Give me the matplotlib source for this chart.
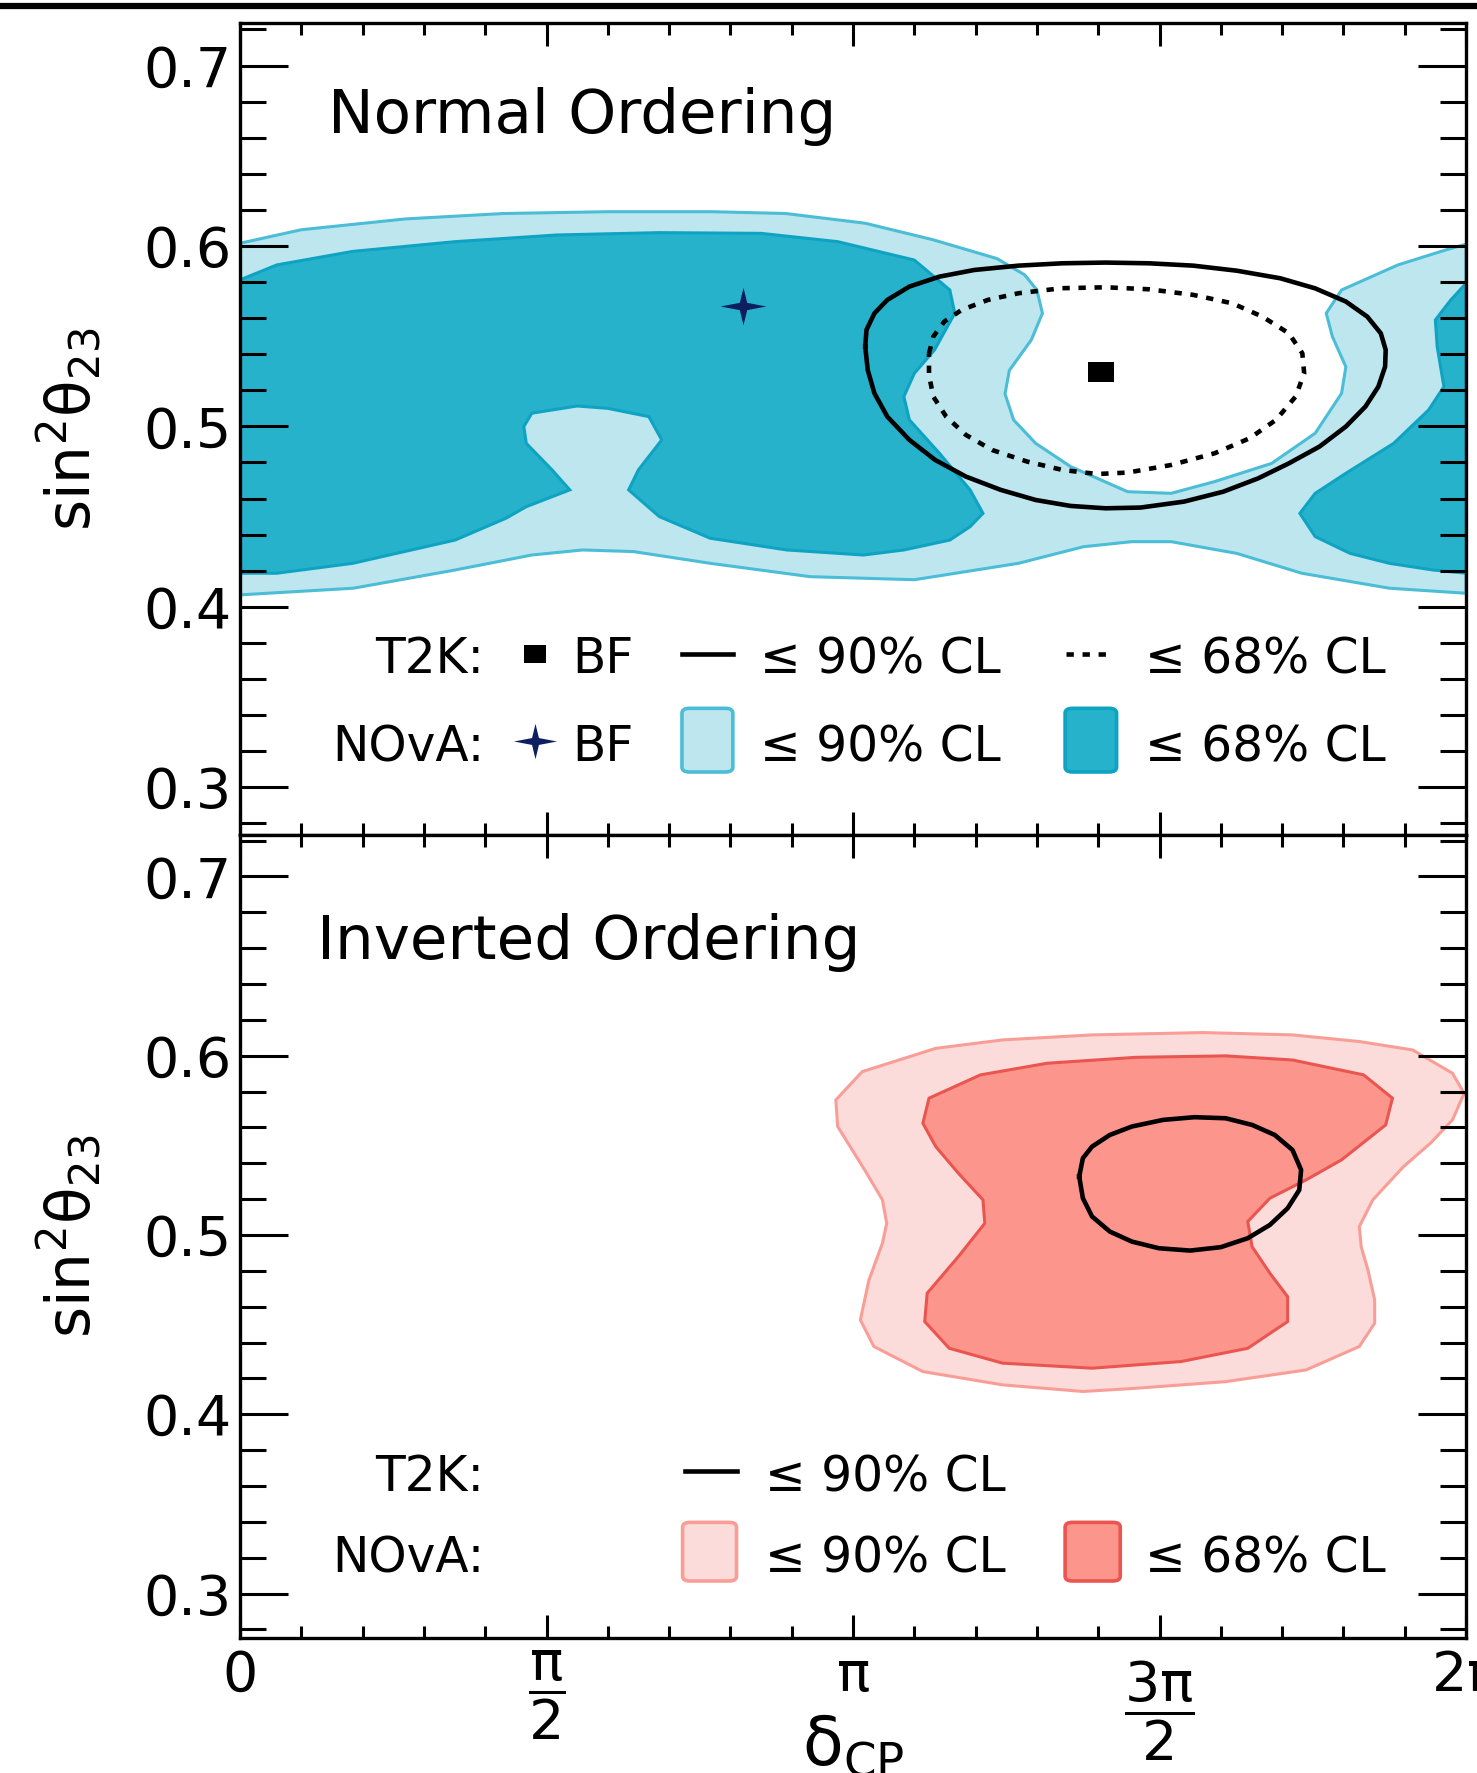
import numpy as np
import matplotlib.pyplot as plt
from matplotlib.path import Path
from matplotlib.patches import FancyBboxPatch
from matplotlib.lines import Line2D

plt.rcParams['font.family'] = ['DejaVu Sans']
plt.rcParams['mathtext.fontset'] = 'dejavusans'
plt.rcParams['mathtext.default'] = 'regular'

# contours as (delta_CP / pi, sin^2 theta_23)

# normal ordering
nova_no_90 = [(0.00, 0.6015), (0.10, 0.609), (0.27, 0.615), (0.43, 0.618), (0.60, 0.619),
              (0.77, 0.619), (0.89, 0.618), (1.02, 0.6126), (1.13, 0.6035), (1.235, 0.593),
              (1.28, 0.584), (1.30, 0.5756), (1.309, 0.5627), (1.291, 0.548), (1.255, 0.531),
              (1.248, 0.518), (1.262, 0.5036), (1.298, 0.4906), (1.355, 0.4777), (1.448, 0.4638),
              (1.519, 0.4629), (1.590, 0.4694), (1.683, 0.4795), (1.754, 0.4962), (1.797, 0.5183),
              (1.804, 0.533), (1.782, 0.5498), (1.772, 0.5627), (1.797, 0.5756), (1.889, 0.5895),
              (1.967, 0.5978), (2.00, 0.601),
              (2.00, 0.4075), (1.875, 0.4103), (1.732, 0.4186), (1.626, 0.4296), (1.519, 0.4361),
              (1.455, 0.4361), (1.376, 0.4333), (1.27, 0.4241), (1.10, 0.4150), (0.93, 0.4167),
              (0.767, 0.4241), (0.642, 0.4306), (0.559, 0.4315), (0.476, 0.4287), (0.351, 0.4204),
              (0.185, 0.4103), (0.00, 0.4066)]

nova_no_68_left = [(0.00, 0.5812), (0.06, 0.5895), (0.184, 0.597), (0.351, 0.6024), (0.517, 0.6061),
                   (0.684, 0.6074), (0.85, 0.607), (0.975, 0.6024), (1.10, 0.5922), (1.158, 0.5756),
                   (1.166, 0.5627), (1.133, 0.5424), (1.10, 0.5294), (1.083, 0.5165), (1.092, 0.5036),
                   (1.141, 0.4851), (1.191, 0.4648), (1.212, 0.4518), (1.191, 0.4444), (1.158, 0.437),
                   (1.083, 0.4315), (1.017, 0.4287), (0.892, 0.4315), (0.767, 0.438), (0.684, 0.450),
                   (0.634, 0.4648), (0.65, 0.4759), (0.688, 0.4925), (0.667, 0.5054), (0.60, 0.510),
                   (0.55, 0.5113), (0.476, 0.5073), (0.463, 0.4999), (0.467, 0.4906), (0.509, 0.4759),
                   (0.538, 0.4648), (0.467, 0.4555), (0.434, 0.4491), (0.351, 0.437), (0.184, 0.4241),
                   (0.06, 0.4186), (0.00, 0.4186)]

nova_no_68_right = [(2.00, 0.5793), (1.975, 0.570), (1.95, 0.559), (1.953, 0.5442), (1.964, 0.522),
                    (1.939, 0.5091), (1.882, 0.4906), (1.804, 0.474), (1.754, 0.4629), (1.729, 0.4518),
                    (1.754, 0.4389), (1.811, 0.4296), (1.875, 0.4241), (1.946, 0.4204), (2.00, 0.4186)]

t2k_no_90 = [(1.020, 0.5442), (1.022, 0.5535), (1.035, 0.5627), (1.056, 0.5701), (1.092, 0.5775),
             (1.141, 0.5830), (1.198, 0.5867), (1.270, 0.5891), (1.341, 0.5904), (1.412, 0.5908),
             (1.483, 0.5904), (1.555, 0.5891), (1.626, 0.5863), (1.697, 0.5821), (1.754, 0.5765),
             (1.804, 0.5692), (1.839, 0.5608), (1.861, 0.5516), (1.869, 0.5424), (1.868, 0.5331),
             (1.857, 0.5220), (1.836, 0.5110), (1.804, 0.4999), (1.761, 0.4888), (1.711, 0.4795),
             (1.661, 0.4712), (1.604, 0.4638), (1.540, 0.4583), (1.469, 0.4550), (1.412, 0.4546),
             (1.355, 0.4559), (1.298, 0.4592), (1.241, 0.4648), (1.184, 0.4722), (1.134, 0.4814),
             (1.092, 0.4925), (1.056, 0.5054), (1.035, 0.5183), (1.024, 0.5313), (1.020, 0.5442)]

t2k_no_68 = [(1.124, 0.5405), (1.131, 0.5498), (1.149, 0.5581), (1.177, 0.5645), (1.220, 0.5701),
             (1.270, 0.5738), (1.341, 0.5766), (1.412, 0.5771), (1.483, 0.5760), (1.555, 0.5729),
             (1.619, 0.5682), (1.668, 0.5608), (1.711, 0.5516), (1.733, 0.5405), (1.736, 0.5294),
             (1.722, 0.5165), (1.690, 0.5036), (1.647, 0.4934), (1.590, 0.4851), (1.519, 0.4786),
             (1.448, 0.4744), (1.398, 0.4736), (1.341, 0.4759), (1.284, 0.4805), (1.227, 0.4869),
             (1.184, 0.4953), (1.152, 0.5054), (1.131, 0.5165), (1.124, 0.5285), (1.124, 0.5405)]

t2k_no_bf = (1.405, 0.530)
nova_no_bf = (0.821, 0.567)

# inverted ordering
nova_io_90 = [(0.972, 0.5753), (1.015, 0.5911), (1.135, 0.6041), (1.244, 0.6088), (1.39, 0.6116),
              (1.571, 0.6129), (1.717, 0.6116), (1.826, 0.6079), (1.913, 0.6032), (1.978, 0.5902),
              (1.997, 0.579), (1.978, 0.5642), (1.942, 0.5512), (1.898, 0.5381), (1.848, 0.5196),
              (1.826, 0.5047), (1.829, 0.4935), (1.84, 0.4805), (1.851, 0.4638), (1.851, 0.4508),
              (1.826, 0.4378), (1.739, 0.4247), (1.608, 0.4182), (1.462, 0.4145), (1.375, 0.4127),
              (1.244, 0.4164), (1.114, 0.4238), (1.034, 0.4378), (1.012, 0.4526), (1.026, 0.4749),
              (1.048, 0.4954), (1.055, 0.5065), (1.048, 0.5196), (1.019, 0.5363), (0.975, 0.5605)]

nova_io_68 = [(1.124, 0.5763), (1.208, 0.5893), (1.317, 0.5958), (1.462, 0.5991), (1.608, 0.5999),
              (1.717, 0.5976), (1.833, 0.5893), (1.88, 0.5763), (1.869, 0.5614), (1.797, 0.5419),
              (1.739, 0.5307), (1.68, 0.5205), (1.644, 0.5075), (1.651, 0.4935), (1.68, 0.4787),
              (1.709, 0.4656), (1.709, 0.4517), (1.644, 0.4368), (1.535, 0.4294), (1.39, 0.4257),
              (1.244, 0.4285), (1.157, 0.4368), (1.117, 0.4517), (1.121, 0.4675), (1.172, 0.488),
              (1.215, 0.5065), (1.212, 0.5196), (1.172, 0.5344), (1.135, 0.5493), (1.114, 0.5623)]

t2k_io_90 = [(1.369, 0.5326), (1.375, 0.5428), (1.390, 0.5493), (1.419, 0.5558), (1.455, 0.5605),
             (1.506, 0.5642), (1.557, 0.5657), (1.608, 0.5651), (1.651, 0.5614), (1.688, 0.5558),
             (1.717, 0.5474), (1.731, 0.5363), (1.728, 0.5251), (1.709, 0.5149), (1.680, 0.5056),
             (1.644, 0.4982), (1.600, 0.4932), (1.550, 0.4913), (1.499, 0.4926), (1.455, 0.4963),
             (1.419, 0.5019), (1.390, 0.5103), (1.375, 0.5205), (1.369, 0.5326)]

yticks = [0.3, 0.4, 0.5, 0.6, 0.7]
ytick_labels = ['0.3', '0.4', '0.5', '0.6', '0.7']
xticks_pi = [0, 0.5, 1, 1.5, 2]
xtick_labels = ['0', r'$\dfrac{\pi}{2}$', r'$\pi$', r'$\dfrac{3\pi}{2}$', r'$2\pi$']

LIGHT_BLUE, LIGHT_BLUE_EDGE = '#BDE6EF', '#4BBDD6'
DARK_BLUE, DARK_BLUE_EDGE = '#27B2CC', '#0EA3C2'
LIGHT_RED, LIGHT_RED_EDGE = '#FBDCDA', '#F99E97'
DARK_RED, DARK_RED_EDGE = '#FC968C', '#EA5550'
STAR_COLOR = '#0D1F5E'

square = Path([(-1, -0.8), (1, -0.8), (1, 0.8), (-1, 0.8), (-1, -0.8)], closed=True)
star = Path([(0, 0.82), (0.16, 0.16), (1, 0), (0.16, -0.16), (0, -0.82),
             (-0.16, -0.16), (-1, 0), (-0.16, 0.16), (0, 0.82)], closed=True)

W, H = 1477, 1773
fig = plt.figure(figsize=(W / 100, H / 100), dpi=100)
ax_no = fig.add_axes([240 / W, 938 / H, 1226 / W, 812 / H])
ax_io = fig.add_axes([240 / W, 135 / H, 1226 / W, 803 / H])


def xy(pts):
    a = np.array(pts)
    return a[:, 0] * np.pi, a[:, 1]


def fill(ax, pts, fc, ec):
    x, y = xy(pts)
    ax.fill(x, y, facecolor=fc, edgecolor=ec, lw=2.2, zorder=1)


def setup(ax, ylim, xlabels):
    ax.set_xlim(0, 2 * np.pi)
    ax.set_ylim(*ylim)
    ax.set_yticks(yticks)
    ax.set_yticklabels(ytick_labels)
    ax.set_xticks([v * np.pi for v in xticks_pi])
    ax.set_xticklabels(xtick_labels)
    ax.xaxis.set_minor_locator(plt.MultipleLocator(np.pi / 10))
    ax.yaxis.set_minor_locator(plt.MultipleLocator(0.02))
    ax.tick_params(which='both', direction='in', top=True, right=True, width=2.2,
                   labelsize=40, labelbottom=xlabels)
    ax.tick_params(axis='y', which='major', length=34.5, pad=6)
    ax.tick_params(axis='y', which='minor', length=18.7)
    ax.tick_params(axis='x', which='major', length=16.5, pad=8)
    ax.tick_params(axis='x', which='minor', length=8.6)
    for s in ax.spines.values():
        s.set_linewidth(2.4)
    ax.text(-0.139, 0.5, r'$sin^{2}\theta_{23}$', rotation=90, ha='center', va='center',
            fontsize=43, transform=ax.transAxes)


def box(ax, x0, x1, y0, y1, fc, ec):
    ax.add_patch(FancyBboxPatch((x0, y0), x1 - x0, y1 - y0,
                                boxstyle='round,pad=0,rounding_size=0.006',
                                transform=ax.transAxes, fc=fc, ec=ec, lw=2.6, clip_on=False))


def txt(ax, x, y, s, ha='left'):
    ax.text(x, y, s, ha=ha, va='baseline', fontsize=35, transform=ax.transAxes)


# ---------- normal ordering ----------
setup(ax_no, (0.2735, 0.7236), False)
fill(ax_no, nova_no_90, LIGHT_BLUE, LIGHT_BLUE_EDGE)
fill(ax_no, nova_no_68_left, DARK_BLUE, DARK_BLUE_EDGE)
fill(ax_no, nova_no_68_right, DARK_BLUE, DARK_BLUE_EDGE)
x, y = xy(t2k_no_90)
ax_no.plot(x, y, color='black', lw=3.3, solid_joinstyle='round', zorder=3)
x, y = xy(t2k_no_68)
ax_no.plot(x, y, color='black', lw=3.3, ls=(0, (1.6, 1.9)), zorder=3)
ax_no.plot(t2k_no_bf[0] * np.pi, t2k_no_bf[1], marker=square, ms=18.7, color='black', mew=0, zorder=4)
ax_no.plot(nova_no_bf[0] * np.pi, nova_no_bf[1], marker=star, ms=33, color=STAR_COLOR, mew=0, zorder=4)
ax_no.text(0.0718, 0.8645, 'Normal Ordering', fontsize=44, ha='left', va='baseline',
           transform=ax_no.transAxes)

# legend
txt(ax_no, 0.199, 0.1995, 'T2K:', ha='right')
ax_no.plot([0.241], [0.223], marker=square, ms=16.5, color='black', mew=0, transform=ax_no.transAxes)
txt(ax_no, 0.271, 0.1995, 'BF')
ax_no.plot([0.3605, 0.402], [0.223, 0.223], color='black', lw=3.3, transform=ax_no.transAxes)
txt(ax_no, 0.424, 0.1995, '≤ 90% CL')
ax_no.plot([0.674, 0.706], [0.223, 0.223], color='black', lw=3.3, ls=(0, (1.6, 1.9)),
           transform=ax_no.transAxes)
txt(ax_no, 0.738, 0.1995, '≤ 68% CL')
txt(ax_no, 0.199, 0.091, 'NOvA:', ha='right')
ax_no.plot([0.241], [0.116], marker=star, ms=31, color=STAR_COLOR, mew=0, transform=ax_no.transAxes)
txt(ax_no, 0.271, 0.091, 'BF')
box(ax_no, 0.3605, 0.402, 0.0776, 0.156, LIGHT_BLUE, LIGHT_BLUE_EDGE)
txt(ax_no, 0.424, 0.091, '≤ 90% CL')
box(ax_no, 0.673, 0.715, 0.0776, 0.156, DARK_BLUE, DARK_BLUE_EDGE)
txt(ax_no, 0.738, 0.091, '≤ 68% CL')

# ---------- inverted ordering ----------
setup(ax_io, (0.2752, 0.7231), True)
ax_io.xaxis.get_major_ticks()[3].set_pad(15)
fill(ax_io, nova_io_90, LIGHT_RED, LIGHT_RED_EDGE)
fill(ax_io, nova_io_68, DARK_RED, DARK_RED_EDGE)
x, y = xy(t2k_io_90)
ax_io.plot(x, y, color='black', lw=3.3, solid_joinstyle='round', zorder=3)
ax_io.text(0.0628, 0.8456, 'Inverted Ordering', fontsize=44, ha='left', va='baseline',
           transform=ax_io.transAxes)
ax_io.text(0.5, -0.093, r'$\delta_{CP}$', fontsize=48, ha='center', va='top',
           transform=ax_io.transAxes)

txt(ax_io, 0.199, 0.183, 'T2K:', ha='right')
ax_io.plot([0.363, 0.405], [0.208, 0.208], color='black', lw=3.3, transform=ax_io.transAxes)
txt(ax_io, 0.428, 0.183, '≤ 90% CL')
txt(ax_io, 0.199, 0.081, 'NOvA:', ha='right')
box(ax_io, 0.361, 0.405, 0.071, 0.144, LIGHT_RED, LIGHT_RED_EDGE)
txt(ax_io, 0.428, 0.081, '≤ 90% CL')
box(ax_io, 0.673, 0.718, 0.071, 0.144, DARK_RED, DARK_RED_EDGE)
txt(ax_io, 0.738, 0.081, '≤ 68% CL')

# thick rule along the top edge of the page
fig.add_artist(Line2D([0, 1], [1 - 6 / H, 1 - 6 / H], transform=fig.transFigure, color='black', lw=4.5))

fig.savefig('out.png', dpi=100)
